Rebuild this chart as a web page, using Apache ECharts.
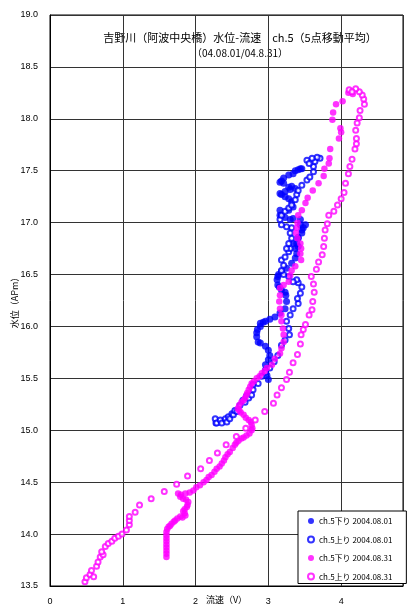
<!DOCTYPE html>
<html><head><meta charset="utf-8">
<script src="https://cdn.jsdelivr.net/npm/echarts@6/dist/echarts.min.js"></script>
<style>html,body{margin:0;padding:0;background:#fff}#c{width:408px;height:607px}</style>
</head><body><div id="c"></div>
<script>
const seriesNames = ['ch.5下り 2004.08.01','ch.5上り 2004.08.01','ch.5下り 2004.08.31','ch.5上り 2004.08.31'];
const titleText = '吉野川（阿波中央橋）水位-流速　ch.5（5点移動平均）';
const subTitleText = '（04.08.01/04.8.31）';
const xName = '流速（V）';
const yName = '水位（APm）';
const xTickValues = [0,1,2,3,4];
const xRange = [0, 4.85, 1];
const yRange = [13.5, 19.0, 0.5];

// ch.5下り 2004.08.01 (blue, filled)
const blueDown = [[3.00,15.49],[2.98,15.53],[2.96,15.58],[2.96,15.63],[3.00,15.68],[3.02,15.72],[3.00,15.77],[2.96,15.81],[2.89,15.84],[2.86,15.85],[2.84,15.90],[2.84,15.94],[2.85,15.97],[2.89,16.00],[2.89,16.03],[2.93,16.04],[2.96,16.05],[3.02,16.07],[3.09,16.09],[3.16,16.13],[3.23,16.17],[3.25,16.24],[3.24,16.30],[3.23,16.33],[3.18,16.35],[3.15,16.38],[3.13,16.40],[3.12,16.45],[3.13,16.48],[3.14,16.50],[3.18,16.53],[3.25,16.56],[3.32,16.61],[3.37,16.66],[3.39,16.70],[3.37,16.75],[3.41,16.77],[3.34,16.80],[3.39,16.80],[3.41,16.85],[3.41,16.86],[3.46,16.90],[3.46,16.93],[3.48,16.95],[3.51,16.98],[3.44,16.98],[3.44,17.03],[3.34,17.04],[3.30,17.03],[3.23,17.05],[3.16,17.07],[3.18,17.07],[3.16,17.12],[3.28,17.12],[3.34,17.15],[3.32,17.20],[3.28,17.23],[3.23,17.25],[3.18,17.27],[3.16,17.28],[3.23,17.30],[3.30,17.32],[3.37,17.33],[3.32,17.35],[3.28,17.34],[3.21,17.38],[3.18,17.40],[3.16,17.39],[3.21,17.43],[3.28,17.46],[3.34,17.47],[3.37,17.50],[3.41,17.51],[3.44,17.52],[3.46,17.52]];

// ch.5上り 2004.08.01 (blue, hollow)
const blueUp = [[2.28,15.07],[2.27,15.11],[2.29,15.07],[2.34,15.10],[2.36,15.07],[2.41,15.11],[2.43,15.08],[2.45,15.13],[2.47,15.11],[2.50,15.16],[2.52,15.15],[2.54,15.19],[2.57,15.18],[2.61,15.24],[2.65,15.29],[2.68,15.27],[2.70,15.33],[2.73,15.31],[2.77,15.34],[2.79,15.39],[2.79,15.44],[2.86,15.45],[2.91,15.52],[2.96,15.56],[3.02,15.60],[3.08,15.66],[3.13,15.72],[3.18,15.82],[3.23,15.87],[3.29,15.92],[3.28,15.98],[3.25,16.05],[3.30,16.11],[3.34,16.17],[3.41,16.22],[3.40,16.27],[3.44,16.32],[3.46,16.38],[3.41,16.42],[3.39,16.45],[3.34,16.43],[3.28,16.48],[3.21,16.50],[3.18,16.54],[3.21,16.59],[3.18,16.64],[3.23,16.67],[3.28,16.72],[3.30,16.75],[3.25,16.75],[3.28,16.80],[3.32,16.85],[3.30,16.90],[3.32,16.95],[3.25,16.96],[3.18,16.98],[3.16,17.03],[3.18,17.07],[3.23,17.11],[3.28,17.14],[3.32,17.17],[3.37,17.22],[3.39,17.27],[3.41,17.31],[3.46,17.36],[3.53,17.41],[3.57,17.44],[3.62,17.49],[3.62,17.54],[3.64,17.59],[3.71,17.62],[3.67,17.63],[3.60,17.62],[3.53,17.60],[3.56,17.57]];

// ch.5下り 2004.08.31 (magenta, filled)
const magDown = [[4.16,18.24],[4.10,18.25],[4.02,18.17],[3.93,18.14],[3.89,18.06],[3.88,17.99],[3.99,17.91],[4.00,17.87],[3.97,17.81],[3.85,17.71],[3.84,17.62],[3.83,17.57],[3.77,17.52],[3.76,17.45],[3.69,17.38],[3.61,17.31],[3.54,17.24],[3.51,17.19],[3.46,17.12],[3.41,17.07],[3.40,17.00],[3.39,16.95],[3.38,16.90],[3.40,16.85],[3.44,16.80],[3.45,16.75],[3.44,16.70],[3.45,16.64],[3.37,16.58],[3.32,16.54],[3.30,16.49],[3.28,16.43],[3.21,16.40],[3.16,16.37],[3.16,16.30],[3.15,16.24],[3.16,16.17],[3.18,16.11],[3.18,16.05],[3.20,15.98],[3.21,15.92],[3.21,15.85],[3.18,15.79],[3.16,15.74],[3.09,15.69],[3.05,15.63],[2.98,15.60],[2.95,15.57],[2.91,15.55],[2.88,15.52],[2.84,15.50],[2.80,15.47],[2.77,15.45],[2.75,15.42],[2.73,15.39],[2.71,15.36],[2.70,15.34],[2.68,15.31],[2.66,15.29],[2.63,15.27],[2.60,15.24],[2.58,15.21],[2.60,15.19],[2.62,15.17],[2.66,15.15],[2.69,15.12],[2.73,15.10],[2.76,15.08],[2.77,15.05],[2.78,15.02],[2.77,15.00],[2.74,14.97],[2.70,14.95],[2.66,14.93],[2.63,14.92],[2.59,14.90],[2.56,14.88],[2.54,14.86],[2.51,14.83],[2.47,14.79],[2.44,14.77],[2.41,14.74],[2.39,14.71],[2.36,14.68],[2.33,14.65],[2.29,14.63],[2.26,14.60],[2.22,14.57],[2.18,14.55],[2.15,14.52],[2.11,14.50],[2.06,14.47],[2.01,14.45],[1.97,14.42],[1.92,14.40],[1.86,14.39],[1.80,14.38],[1.76,14.39],[1.79,14.36],[1.83,14.34],[1.87,14.33],[1.90,14.31],[1.89,14.28],[1.88,14.26],[1.85,14.24],[1.83,14.22],[1.85,14.20],[1.86,14.18],[1.82,14.16],[1.79,14.17],[1.75,14.15],[1.72,14.13],[1.70,14.12],[1.67,14.10],[1.65,14.08],[1.63,14.07],[1.61,14.05],[1.60,14.02],[1.60,13.99],[1.60,13.96],[1.60,13.93],[1.60,13.90],[1.60,13.87],[1.60,13.84],[1.60,13.81],[1.60,13.78]];

// ch.5上り 2004.08.31 (magenta, hollow)
const magUp = [[0.54,13.49],[0.48,13.54],[0.50,13.58],[0.55,13.61],[0.60,13.59],[0.57,13.65],[0.64,13.69],[0.66,13.73],[0.69,13.78],[0.73,13.80],[0.71,13.83],[0.76,13.88],[0.80,13.91],[0.85,13.93],[0.89,13.96],[0.94,13.98],[0.99,14.00],[1.05,14.04],[1.09,14.09],[1.09,14.13],[1.09,14.17],[1.17,14.21],[1.23,14.28],[1.39,14.34],[1.57,14.41],[1.74,14.48],[1.89,14.56],[2.07,14.63],[2.19,14.71],[2.30,14.78],[2.42,14.86],[2.56,14.94],[2.69,15.02],[2.82,15.10],[2.95,15.18],[3.07,15.26],[3.12,15.34],[3.18,15.41],[3.25,15.49],[3.29,15.56],[3.34,15.65],[3.40,15.73],[3.44,15.83],[3.45,15.92],[3.48,15.97],[3.51,16.02],[3.56,16.11],[3.60,16.16],[3.61,16.24],[3.63,16.33],[3.62,16.41],[3.59,16.48],[3.66,16.55],[3.69,16.62],[3.74,16.69],[3.76,16.77],[3.77,16.85],[3.78,16.93],[3.81,16.99],[3.83,17.07],[3.90,17.11],[3.95,17.17],[4.00,17.23],[4.04,17.29],[4.06,17.38],[4.10,17.47],[4.12,17.54],[4.15,17.61],[4.19,17.71],[4.21,17.76],[4.21,17.81],[4.20,17.89],[4.22,17.96],[4.25,18.01],[4.26,18.08],[4.32,18.14],[4.31,18.19],[4.29,18.23],[4.25,18.26],[4.20,18.29],[4.11,18.28],[4.15,18.26]];

const FONT = "'Liberation Sans','Noto Sans CJK JP',sans-serif";
const JFONT = "'Noto Sans CJK JP',sans-serif";
const BLUE = '#0000FF', MAG = '#FF00FF';

const chart = echarts.init(document.getElementById('c'), null, {renderer:'canvas'});
function mk(name, data, color, hollow, size) {
  return {
    name, type:'scatter', data,
    symbol: hollow ? 'emptyCircle' : 'circle',
    symbolSize: size,
    itemStyle: hollow ? {color: color, borderColor: color, borderWidth: 1} : {color: color},
    emphasis:{disabled:true}
  };
}
chart.setOption({
  animation:false,
  backgroundColor:'#fff',
  grid:{left:50, top:15, right:5, bottom:21, show:true, borderColor:'#000', borderWidth:1,
        containLabel:false, outerBoundsMode:'none'},
  graphic:[
    {type:'text', x:240, y:38, style:{text:titleText, font:"11px "+JFONT, fill:'#000', align:'center', verticalAlign:'middle', textAlign:'center', textVerticalAlign:'middle'}},
    {type:'text', x:240, y:53, style:{text:subTitleText, font:"10px "+JFONT, fill:'#000', align:'center', verticalAlign:'middle', textAlign:'center', textVerticalAlign:'middle'}}
  ],
  xAxis:{
    type:'value', min:xRange[0], max:xRange[1], interval:xRange[2],
    name:xName, nameLocation:'middle', nameGap:9, nameMoveOverlap:false,
    nameTextStyle:{fontSize:9, color:'#000', fontFamily:JFONT},
    axisLine:{show:true, lineStyle:{color:'#000', width:1}},
    axisTick:{show:false},
    axisLabel:{fontSize:9, color:'#000', fontFamily:FONT, margin:11,
      formatter: v => xTickValues.indexOf(v) >= 0 ? String(v) : ''},
    splitLine:{show:true, lineStyle:{color:'#333', width:1}}
  },
  yAxis:{
    type:'value', min:yRange[0], max:yRange[1], interval:yRange[2],
    name:yName, nameLocation:'middle', nameGap:31, nameRotate:90, nameMoveOverlap:false,
    nameTextStyle:{fontSize:9, color:'#000', fontFamily:JFONT},
    axisLine:{show:true, lineStyle:{color:'#000', width:1}},
    axisTick:{show:false},
    axisLabel:{fontSize:9, color:'#000', fontFamily:FONT, margin:12, formatter: v => v.toFixed(1)},
    splitLine:{show:true, lineStyle:{color:'#333', width:1}}
  },
  legend:{
    data: seriesNames, orient:'vertical', left:298, top:511,
    backgroundColor:'#fff', borderColor:'#000', borderWidth:1,
    padding:[5,14,2,9], itemGap:8.5, itemWidth:6, itemHeight:6,
    textStyle:{fontSize:8, color:'#000', fontFamily:JFONT, lineHeight:10},
    selectedMode:false
  },
  series:[
    mk(seriesNames[0], blueDown, BLUE, false, 7),
    mk(seriesNames[1], blueUp, BLUE, true, 5),
    mk(seriesNames[2], magDown, MAG, false, 6.5),
    mk(seriesNames[3], magUp, MAG, true, 5)
  ]
});
</script></body></html>
